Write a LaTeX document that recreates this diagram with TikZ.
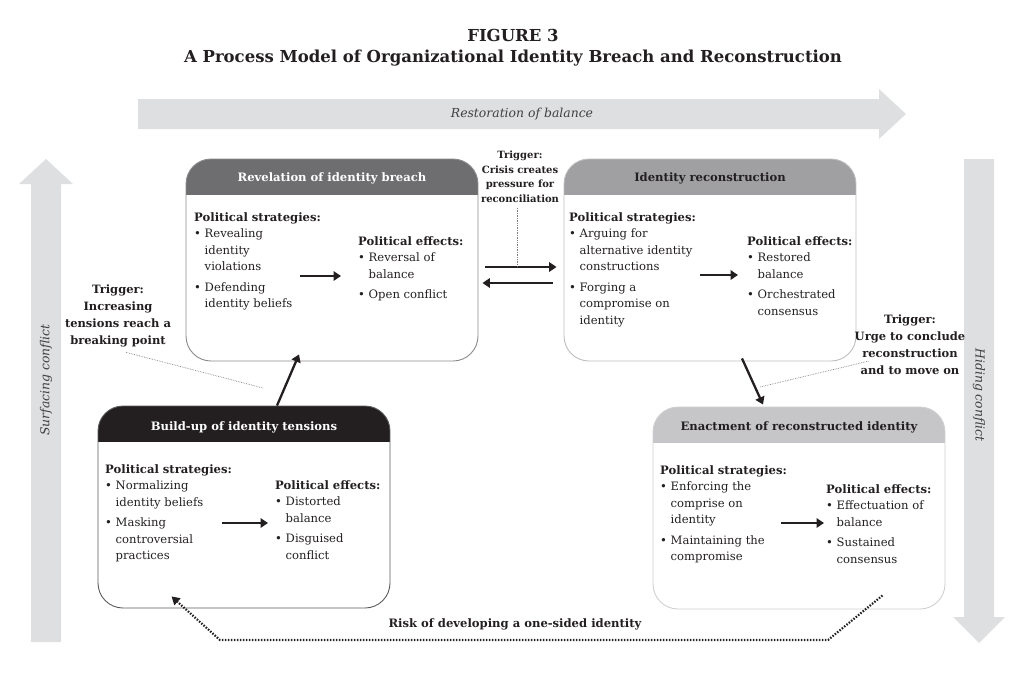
\documentclass[tikz,border=0pt]{standalone}
\usepackage{fontspec}
\setmainfont{DejaVu Serif}
\usetikzlibrary{arrows.meta,positioning}
\definecolor{bandgray}{HTML}{DEDFE1}
\definecolor{ink}{HTML}{231F20}
\definecolor{hdA}{HTML}{6E6E70}
\definecolor{hdB}{HTML}{A0A0A2}
\definecolor{hdC}{HTML}{231F20}
\definecolor{hdD}{HTML}{C6C6C8}
\definecolor{bdA}{HTML}{8A8A8C}
\definecolor{bdB}{HTML}{BDBDBF}
\definecolor{bdC}{HTML}{5A5A5C}
\definecolor{bdD}{HTML}{D0D0D2}
\def\bodyfont{\fontsize{11.6}{16.5}\selectfont}
\def\bl{\textbullet\ }
\def\nx{\phantom{\textbullet\ }}
\def\psh{{\bfseries Political strategies:}}
\def\peh{{\bfseries Political effects:}}

\tikzset{
  stage/.style 2 args={draw=#2, line width=0.9pt, rounded corners=25pt,
    minimum width=292pt, minimum height=202pt, inner sep=0pt,
    path picture={\fill[#1, sharp corners] (path picture bounding box.north west)
      rectangle ([yshift=-36pt]path picture bounding box.north east);}},
  hdtext/.style={font=\bodyfont\bfseries, inner sep=0pt},
  txt/.style={anchor=north west, align=left, inner sep=0pt, font=\bodyfont, text=ink},
  flow/.style={-{Triangle[length=7.5pt,width=9.5pt]}, line width=2.3pt, ink},
  hint/.style={densely dotted, gray, line width=0.7pt},
  risk/.style={-{Triangle[length=8pt,width=9pt]}, line width=2.2pt, ink,
    dash pattern=on 1.5pt off 1.5pt},
  trig/.style={align=center, font=\bfseries\fontsize{11.5}{17}\selectfont,
    inner sep=0pt, text=ink},
  bandtext/.style={font=\itshape\fontsize{12.4}{15}\selectfont, text=black!75}
}

\begin{document}
\begin{tikzpicture}[x=1pt,y=-1pt]
\useasboundingbox (0,0) rectangle (1026,686);

% title
\node[font=\bfseries\fontsize{16.5}{22}\selectfont, text=ink] (fig) at (513,35) {FIGURE 3};
\node[font=\bfseries\fontsize{16.5}{22}\selectfont, text=ink, below=2pt of fig] (ttl)
  {A Process Model of Organizational Identity Breach and Reconstruction};

% broad arrows
\fill[bandgray] (138,99) -- (879,99) -- (879,89) -- (906,114) -- (879,139) -- (879,129) -- (138,129) -- cycle;
\node[bandtext] (restore) at (522,114) {Restoration of balance};
\fill[bandgray] (31,642) -- (31,184) -- (19,184) -- (46,159) -- (73,184) -- (61,184) -- (61,642) -- cycle;
\node[bandtext, rotate=90] (surface) at (46,380) {Surfacing conflict};
\fill[bandgray] (964,159) -- (994,159) -- (994,617) -- (1005,617) -- (979,643) -- (953,617) -- (964,617) -- cycle;
\node[bandtext, rotate=-90] (hiding) at (979,395) {Hiding conflict};

% the four stages
\node[stage={hdA}{bdA}] (breach) at (332,260) {};
\node[stage={hdB}{bdB}] (recon) at (710,260) {};
\node[stage={hdC}{bdC}] (buildup) at (244,507) {};
\node[stage={hdD}{bdD}] (enact) at (799,508) {};

\node[hdtext, text=white] (breachhd) at ([yshift=-20pt]breach.north) {Revelation of identity breach};
\node[hdtext, text=ink] (reconhd) at ([yshift=-20pt]recon.north) {Identity reconstruction};
\node[hdtext, text=white] (builduphd) at ([yshift=-22pt]buildup.north) {Build-up of identity tensions};
\node[hdtext, text=ink] (enacthd) at ([yshift=-21pt]enact.north) {Enactment of reconstructed identity};

% stage contents
\node[txt] (breachps) at (194,212) {\psh\\ \bl Revealing\\ \nx identity\\ \nx violations\\[4pt] \bl Defending\\ \nx identity beliefs};
\node[txt] (breachpe) at (358,236) {\peh\\ \bl Reversal of\\ \nx balance\\[4pt] \bl Open conflict};
\node[txt] (reconps) at (569,212) {\psh\\ \bl Arguing for\\ \nx alternative identity\\ \nx constructions\\[4pt] \bl Forging a\\ \nx compromise on\\ \nx identity};
\node[txt] (reconpe) at (747,236) {\peh\\ \bl Restored\\ \nx balance\\[4pt] \bl Orchestrated\\ \nx consensus};
\node[txt] (buildupps) at (105,464) {\psh\\ \bl Normalizing\\ \nx identity beliefs\\[4pt] \bl Masking\\ \nx controversial\\ \nx practices};
\node[txt] (builduppe) at (275,480) {\peh\\ \bl Distorted\\ \nx balance\\[4pt] \bl Disguised\\ \nx conflict};
\node[txt] (enactps) at (660,465) {\psh\\ \bl Enforcing the\\ \nx comprise on\\ \nx identity\\[4pt] \bl Maintaining the\\ \nx compromise};
\node[txt] (enactpe) at (826,484) {\peh\\ \bl Effectuation of\\ \nx balance\\[4pt] \bl Sustained\\ \nx consensus};

\coordinate (breachs) at (300,276); \coordinate (breache) at (341,276);
\coordinate (recons) at (700,275); \coordinate (recone) at (738,275);
\coordinate (buildups) at (222,523); \coordinate (buildupe) at (268,523);
\coordinate (enacts) at (781,523); \coordinate (enacte) at (824,523);
\draw[flow] (breachs) -- (breache);
\draw[flow] (recons) -- (recone);
\draw[flow] (buildups) -- (buildupe);
\draw[flow] (enacts) -- (enacte);

% transitions
\draw[flow] ([xshift=33pt]buildup.north) -- ([shift={(-33,-7)}]breach.south);
\draw[flow] ([shift={(7,7)}]breach.east) -- ([shift={(-7,7)}]recon.west);
\draw[flow] ([shift={(-11,23)}]recon.west) -- ([shift={(4,23)}]breach.east);
\draw[flow] ([shift={(32,-3)}]recon.south) -- ([shift={(-36,-2)}]enact.north);

% triggers
\node[trig] (tension) at (118,316) {Trigger:\\ Increasing\\ tensions reach a\\ breaking point};
\node[trig, font=\bfseries\fontsize{10}{14.5}\selectfont] (crisis) at (520,177) {Trigger:\\ Crisis creates\\ pressure for\\ reconciliation};
\node[trig] (urge) at (910,345) {Trigger:\\ Urge to conclude\\ reconstruction\\ and to move on};
\coordinate (tensend) at (263,388);
\coordinate (crisisend) at (517,266);
\coordinate (urgeend) at (760,387);
\draw[hint] ([shift={(8,5)}]tension.south) -- (tensend);
\draw[hint] ([shift={(-3,5)}]crisis.south) -- (crisisend);
\draw[hint] ([shift={(14,-14)}]urge.south west) -- (urgeend);

% feedback
\node[font=\bfseries\bodyfont, text=ink] (risk) at (515,624) {Risk of developing a one-sided identity};
\draw[risk] ([shift={(-63,-14)}]enact.south east) -- (828,640) -- (220,640) -- ([shift={(74,-12)}]buildup.south west);
\end{tikzpicture}
\end{document}
